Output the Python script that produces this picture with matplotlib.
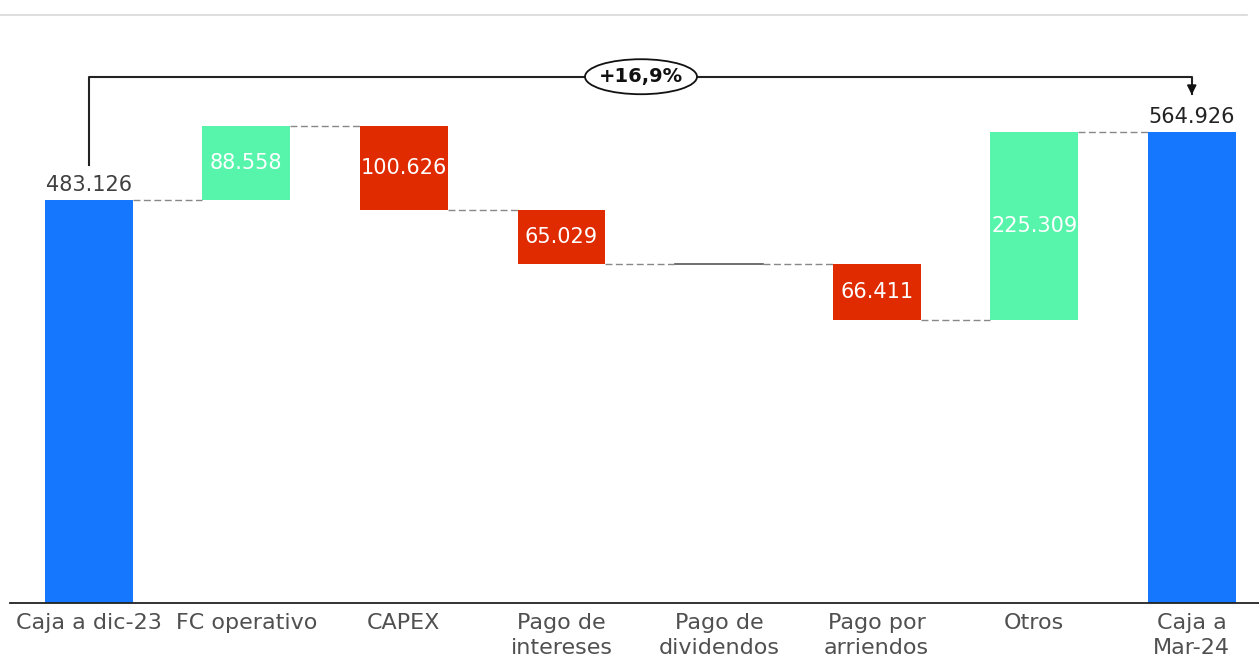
import matplotlib.pyplot as plt
from matplotlib.patches import Ellipse
from matplotlib.lines import Line2D
import numpy as np

# Datos del puente de caja
categorias = ["Caja a dic-23", "FC operativo", "CAPEX", "Pago de\nintereses",
              "Pago de\ndividendos", "Pago por\narriendos", "Otros", "Caja a\nMar-24"]
caja_inicial = 483.126
variaciones = [88.558, -100.626, -65.029, 0.0, -66.411, 225.309]
caja_final = 564.926
etiquetas_var = ["88.558", "100.626", "65.029", "", "66.411", "225.309"]
variacion_pct = "+16,9%"

azul = "#1577FE"
verde = "#57F5AB"
rojo = "#E02A00"
gris_txt = "#404040"

plt.rcParams['font.family'] = ['DejaVu Sans']

fig = plt.figure(figsize=(12.59, 6.58), dpi=100)
ax = fig.add_axes([10/1259, 55/658, 1249/1259, 588/658])

x = np.arange(len(categorias))
ancho = 0.558
px = 157.57  # pixeles por categoria

# barras de caja
ax.bar(x[0], caja_inicial, width=ancho, color=azul)
ax.bar(x[-1], caja_final, width=ancho, color=azul)

nivel = caja_inicial
niveles = [caja_inicial]
for i, v in enumerate(variaciones):
    xi = x[i + 1]
    if v == 0:
        ax.plot([xi - ancho/2, xi + ancho/2], [nivel, nivel], color="#555555", lw=1.2)
    else:
        col = verde if v > 0 else rojo
        ax.bar(xi, v, bottom=nivel, width=ancho, color=col)
        ax.text(xi, nivel + v/2, etiquetas_var[i], ha="center", va="center",
                color="white", fontsize=15)
    nivel = nivel + v
    niveles.append(nivel)
niveles.append(caja_final)

# conectores punteados
for i in range(len(categorias) - 1):
    ax.plot([x[i] + ancho/2, x[i+1] - ancho/2], [niveles[i], niveles[i]],
            color="#888888", lw=1, ls=(0, (5, 2.5)))

# valores de caja
ax.text(x[0], caja_inicial + 6, "483.126", ha="center", va="bottom",
        color=gris_txt, fontsize=15)
ax.text(x[-1], caja_final + 6, "564.926", ha="center", va="bottom",
        color="#222222", fontsize=15)

# corchete de variacion
y_top = 631
ax.plot([x[0], x[0], x[-1], x[-1]], [525, y_top, y_top, 610], color="#222222", lw=1.5)
ax.annotate("", xy=(x[-1], 606), xytext=(x[-1], 622),
            arrowprops=dict(arrowstyle="-|>", color="#111111", lw=1.2,
                            mutation_scale=14))
x_elipse = (641 - 10) / px - 0.5
ell = Ellipse((x_elipse, y_top), width=112/px, height=35/0.8341,
              facecolor="white", edgecolor="#111111", lw=1.3, zorder=5)
ax.add_patch(ell)
ax.text(x_elipse, y_top, variacion_pct, ha="center", va="center",
        fontsize=14, fontweight="bold", color="#111111", zorder=6)

ax.set_xlim(-0.5, -0.5 + 1249/px)
ax.set_ylim(0, 705)
ax.set_xticks(x)
ax.set_xticklabels(categorias, fontsize=16, color="#505050", linespacing=1.3)
ax.tick_params(axis="x", length=0, pad=7)
ax.set_yticks([])
for s in ["top", "right", "left"]:
    ax.spines[s].set_visible(False)
ax.spines["bottom"].set_color("#222222")
ax.spines["bottom"].set_linewidth(1.3)

fig.add_artist(Line2D([0, 1247/1259], [1 - 15/658, 1 - 15/658], color="#d8d8d8", lw=1.2))

fig.savefig("out.png", dpi=100)
